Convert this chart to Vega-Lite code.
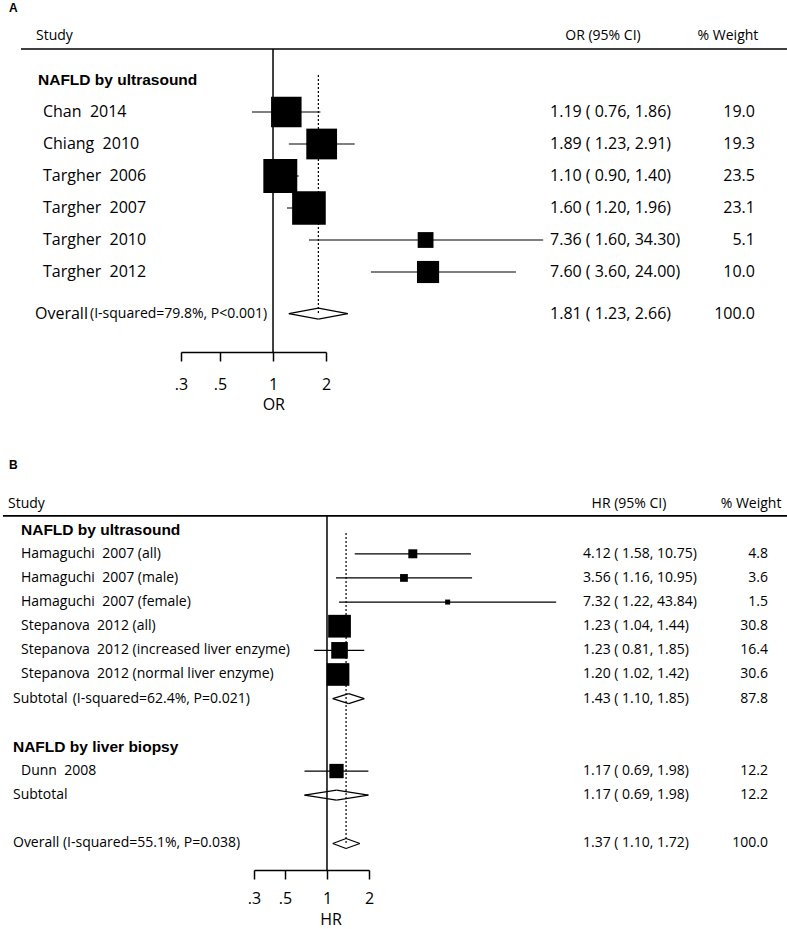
{
  "$schema": "https://vega.github.io/schema/vega-lite/v6.json",
  "padding": {"left": 0, "top": 0, "right": 0, "bottom": 60},
  "background": "white",
  "bounds": "flush",
  "spacing": 98,
  "config": {
    "view": {"stroke": null},
    "font": "Open Sans",
    "text": {"font": "Open Sans", "color": "black"}
  },
  "resolve": {"scale": {"size": "independent", "x": "independent", "y": "independent"}},
  "datasets": {
    "a": [
      {"row": 1, "type": "group", "label": "NAFLD by ultrasound"},
      {"row": 2, "type": "study", "label": "Chan\u00a0 2014", "est": 1.19, "lo": 0.76, "hi": 1.86, "ci": "1.19 ( 0.76, 1.86)", "w": 19.0},
      {"row": 3, "type": "study", "label": "Chiang\u00a0 2010", "est": 1.89, "lo": 1.23, "hi": 2.91, "ci": "1.89 ( 1.23, 2.91)", "w": 19.3},
      {"row": 4, "type": "study", "label": "Targher\u00a0 2006", "est": 1.10, "lo": 0.90, "hi": 1.40, "ci": "1.10 ( 0.90, 1.40)", "w": 23.5},
      {"row": 5, "type": "study", "label": "Targher\u00a0 2007", "est": 1.60, "lo": 1.20, "hi": 1.96, "ci": "1.60 ( 1.20, 1.96)", "w": 23.1},
      {"row": 6, "type": "study", "label": "Targher\u00a0 2010", "est": 7.36, "lo": 1.60, "hi": 34.30, "ci": "7.36 ( 1.60, 34.30)", "w": 5.1},
      {"row": 7, "type": "study", "label": "Targher\u00a0 2012", "est": 7.60, "lo": 3.60, "hi": 24.00, "ci": "7.60 ( 3.60, 24.00)", "w": 10.0},
      {"row": 8.3, "type": "overall", "label": "Overall", "note": "(I-squared=79.8%, P<0.001)", "est": 1.81, "lo": 1.23, "hi": 2.66, "ci": "1.81 ( 1.23, 2.66)", "w": 100.0}
    ],
    "b": [
      {"row": 1, "type": "group", "label": "NAFLD by ultrasound"},
      {"row": 2, "type": "study", "label": "Hamaguchi\u00a0 2007 (all)", "est": 4.12, "lo": 1.58, "hi": 10.75, "ci": "4.12 ( 1.58, 10.75)", "w": 4.8},
      {"row": 3, "type": "study", "label": "Hamaguchi\u00a0 2007 (male)", "est": 3.56, "lo": 1.16, "hi": 10.95, "ci": "3.56 ( 1.16, 10.95)", "w": 3.6},
      {"row": 4, "type": "study", "label": "Hamaguchi\u00a0 2007 (female)", "est": 7.32, "lo": 1.22, "hi": 43.84, "ci": "7.32 ( 1.22, 43.84)", "w": 1.5},
      {"row": 5, "type": "study", "label": "Stepanova\u00a0 2012 (all)", "est": 1.23, "lo": 1.04, "hi": 1.44, "ci": "1.23 ( 1.04, 1.44)", "w": 30.8},
      {"row": 6, "type": "study", "label": "Stepanova\u00a0 2012 (increased liver enzyme)", "est": 1.23, "lo": 0.81, "hi": 1.85, "ci": "1.23 ( 0.81, 1.85)", "w": 16.4},
      {"row": 7, "type": "study", "label": "Stepanova\u00a0 2012 (normal liver enzyme)", "est": 1.20, "lo": 1.02, "hi": 1.42, "ci": "1.20 ( 1.02, 1.42)", "w": 30.6},
      {"row": 8, "type": "subtotal", "label": "Subtotal", "note": "(I-squared=62.4%, P=0.021)", "est": 1.43, "lo": 1.10, "hi": 1.85, "ci": "1.43 ( 1.10, 1.85)", "w": 87.8},
      {"row": 10, "type": "group", "label": "NAFLD by liver biopsy"},
      {"row": 11, "type": "study", "label": "Dunn\u00a0 2008", "est": 1.17, "lo": 0.69, "hi": 1.98, "ci": "1.17 ( 0.69, 1.98)", "w": 12.2},
      {"row": 12, "type": "subtotal", "label": "Subtotal", "note": "", "est": 1.17, "lo": 0.69, "hi": 1.98, "ci": "1.17 ( 0.69, 1.98)", "w": 12.2},
      {"row": 14, "type": "overall", "label": "Overall", "note": "(I-squared=55.1%, P=0.038)", "est": 1.37, "lo": 1.10, "hi": 1.72, "ci": "1.37 ( 1.10, 1.72)", "w": 100.0}
    ]
  },
  "vconcat": [
    {
      "width": 787,
      "height": 352,
      "data": {"name": "a"},
      "encoding": {
        "y": {"field": "row", "type": "quantitative", "scale": {"domain": [-1.5, 9.5], "reverse": true, "nice": false, "zero": false}, "axis": null}
      },
      "resolve": {"scale": {"x": "independent"}},
      "layer": [
        {
          "layer": [
            {
              "transform": [{"filter": "datum.row == 1"}],
              "mark": {"type": "rule", "color": "black", "strokeWidth": 1.5},
              "encoding": {
                "x": {"datum": 1, "type": "quantitative",
                  "scale": {"type": "log", "domain": [0.3, 2], "range": [181, 326], "nice": false},
                  "axis": {"values": [0.3, 0.5, 1, 2], "labelExpr": "datum.value < 1 ? '.' + round(datum.value * 10) : '' + datum.value", "title": null, "grid": false, "domainColor": "black", "domainWidth": 1.5, "tickColor": "black", "tickWidth": 1.5, "tickSize": 9, "labelFont": "Open Sans", "labelFontSize": 16, "labelColor": "black", "labelPadding": 15, "labelFlush": false, "labelOverlap": false}},
                "y": {"datum": 0.031, "type": "quantitative", "axis": null},
                "y2": {"datum": 9.5}
              }
            },
            {
              "transform": [{"filter": "datum.type == 'overall'"}],
              "mark": {"type": "rule", "color": "black", "strokeWidth": 1.2, "strokeDash": [2, 2]},
              "encoding": {
                "x": {"field": "est", "type": "quantitative"},
                "y": {"datum": 0.84, "type": "quantitative", "axis": null},
                "y2": {"field": "row"}
              }
            },
            {
              "transform": [{"filter": "datum.type == 'study'"}],
              "mark": {"type": "rule", "color": "black", "strokeWidth": 1.2},
              "encoding": {
                "x": {"field": "lo", "type": "quantitative"},
                "x2": {"field": "hi"}
              }
            },
            {
              "transform": [{"filter": "datum.type == 'study'"}],
              "mark": {"type": "point", "shape": "square", "filled": true, "color": "black", "opacity": 1, "strokeWidth": 0},
              "encoding": {
                "x": {"field": "est", "type": "quantitative"},
                "size": {"field": "w", "type": "quantitative", "scale": {"type": "linear", "domain": [0, 100], "range": [0, 4900], "zero": true}, "legend": null}
              }
            },
            {
              "transform": [{"filter": "datum.type == 'overall'"}],
              "mark": {"type": "rule", "color": "black", "strokeWidth": 1.2, "y2Offset": -5.5},
              "encoding": {"x": {"field": "lo", "type": "quantitative"}, "x2": {"field": "est"}, "y2": {"field": "row"}}
            },
            {
              "transform": [{"filter": "datum.type == 'overall'"}],
              "mark": {"type": "rule", "color": "black", "strokeWidth": 1.2, "yOffset": -5.5},
              "encoding": {"x": {"field": "est", "type": "quantitative"}, "x2": {"field": "hi"}, "y2": {"field": "row"}}
            },
            {
              "transform": [{"filter": "datum.type == 'overall'"}],
              "mark": {"type": "rule", "color": "black", "strokeWidth": 1.2, "y2Offset": 5.5},
              "encoding": {"x": {"field": "lo", "type": "quantitative"}, "x2": {"field": "est"}, "y2": {"field": "row"}}
            },
            {
              "transform": [{"filter": "datum.type == 'overall'"}],
              "mark": {"type": "rule", "color": "black", "strokeWidth": 1.2, "yOffset": 5.5},
              "encoding": {"x": {"field": "est", "type": "quantitative"}, "x2": {"field": "hi"}, "y2": {"field": "row"}}
            },
            {
              "transform": [{"filter": "datum.row == 1"}],
              "mark": {"type": "text", "text": "OR", "fontSize": 16, "align": "center", "baseline": "middle"},
              "encoding": {
                "x": {"datum": 1.01, "type": "quantitative"},
                "y": {"datum": 11.16, "type": "quantitative", "axis": null}
              }
            }
          ]
        },
        {
          "layer": [
            {
              "transform": [{"filter": "datum.row == 1"}],
              "mark": {"type": "text", "text": "A", "font": "Liberation Sans", "fontWeight": "bold", "fontSize": 12, "align": "left", "baseline": "middle"},
              "encoding": {
                "x": {"datum": 0.0114, "type": "quantitative", "scale": {"domain": [0, 1], "nice": false, "zero": false}, "axis": null},
                "y": {"datum": -1.25, "type": "quantitative", "axis": null}
              }
            },
            {
              "transform": [{"filter": "datum.row == 1"}],
              "mark": {"type": "text", "text": "Study", "fontSize": 14, "align": "left", "baseline": "middle"},
              "encoding": {"x": {"datum": 0.0457, "type": "quantitative", "axis": null}, "y": {"datum": -0.375, "type": "quantitative", "axis": null}}
            },
            {
              "transform": [{"filter": "datum.row == 1"}],
              "mark": {"type": "text", "text": "OR (95% CI)", "fontSize": 14, "align": "center", "baseline": "middle"},
              "encoding": {"x": {"datum": 0.7662, "type": "quantitative", "axis": null}, "y": {"datum": -0.375, "type": "quantitative", "axis": null}}
            },
            {
              "transform": [{"filter": "datum.row == 1"}],
              "mark": {"type": "text", "text": "% Weight", "fontSize": 14, "align": "center", "baseline": "middle"},
              "encoding": {"x": {"datum": 0.925, "type": "quantitative", "axis": null}, "y": {"datum": -0.375, "type": "quantitative", "axis": null}}
            },
            {
              "transform": [{"filter": "datum.row == 1"}],
              "mark": {"type": "rule", "color": "black", "strokeWidth": 1.6},
              "encoding": {"x": {"datum": 0.0267, "type": "quantitative", "axis": null}, "x2": {"datum": 1}, "y": {"datum": 0.031, "type": "quantitative", "axis": null}}
            },
            {
              "transform": [{"filter": "datum.type == 'group'"}],
              "mark": {"type": "text", "font": "Liberation Sans", "fontWeight": "bold", "fontSize": 15.5, "align": "left", "baseline": "middle"},
              "encoding": {"x": {"datum": 0.0483, "type": "quantitative", "axis": null}, "text": {"field": "label"}}
            },
            {
              "transform": [{"filter": "datum.type == 'study'"}],
              "mark": {"type": "text", "fontSize": 16, "align": "left", "baseline": "middle"},
              "encoding": {"x": {"datum": 0.0546, "type": "quantitative", "axis": null}, "text": {"field": "label"}}
            },
            {
              "transform": [{"filter": "datum.type == 'overall'"}],
              "mark": {"type": "text", "fontSize": 16, "align": "left", "baseline": "middle"},
              "encoding": {"x": {"datum": 0.0445, "type": "quantitative", "axis": null}, "text": {"field": "label"}}
            },
            {
              "transform": [{"filter": "datum.type == 'overall'"}],
              "mark": {"type": "text", "fontSize": 14, "align": "left", "baseline": "middle"},
              "encoding": {"x": {"datum": 0.1144, "type": "quantitative", "axis": null}, "text": {"field": "note"}}
            },
            {
              "transform": [{"filter": "datum.type != 'group'"}],
              "mark": {"type": "text", "fontSize": 16, "align": "left", "baseline": "middle"},
              "encoding": {"x": {"datum": 0.6989, "type": "quantitative", "axis": null}, "text": {"field": "ci"}}
            },
            {
              "transform": [{"filter": "datum.type != 'group'"}],
              "mark": {"type": "text", "fontSize": 16, "align": "right", "baseline": "middle"},
              "encoding": {"x": {"datum": 0.9593, "type": "quantitative", "axis": null}, "text": {"field": "w", "type": "quantitative", "format": ".1f"}}
            }
          ]
        }
      ]
    },
    {
      "width": 787,
      "height": 420,
      "data": {"name": "b"},
      "encoding": {
        "y": {"field": "row", "type": "quantitative", "scale": {"domain": [-2.3, 15.1], "reverse": true, "nice": false, "zero": false}, "axis": null}
      },
      "resolve": {"scale": {"x": "independent"}},
      "layer": [
        {
          "layer": [
            {
              "transform": [{"filter": "datum.row == 1"}],
              "mark": {"type": "rule", "color": "black", "strokeWidth": 1.5},
              "encoding": {
                "x": {"datum": 1, "type": "quantitative",
                  "scale": {"type": "log", "domain": [0.3, 2], "range": [254, 369], "nice": false},
                  "axis": {"values": [0.3, 0.5, 1, 2], "labelExpr": "datum.value < 1 ? '.' + round(datum.value * 10) : '' + datum.value", "title": null, "grid": false, "domainColor": "black", "domainWidth": 1.5, "tickColor": "black", "tickWidth": 1.5, "tickSize": 9, "labelFont": "Open Sans", "labelFontSize": 16, "labelColor": "black", "labelPadding": 11, "labelFlush": false, "labelOverlap": false}},
                "y": {"datum": 0.43, "type": "quantitative", "axis": null},
                "y2": {"datum": 15.1}
              }
            },
            {
              "transform": [{"filter": "datum.type == 'overall'"}],
              "mark": {"type": "rule", "color": "black", "strokeWidth": 1.2, "strokeDash": [2, 2]},
              "encoding": {
                "x": {"field": "est", "type": "quantitative"},
                "y": {"datum": 1.14, "type": "quantitative", "axis": null},
                "y2": {"field": "row"}
              }
            },
            {
              "transform": [{"filter": "datum.type == 'study'"}],
              "mark": {"type": "rule", "color": "black", "strokeWidth": 1.2},
              "encoding": {
                "x": {"field": "lo", "type": "quantitative"},
                "x2": {"field": "hi"}
              }
            },
            {
              "transform": [{"filter": "datum.type == 'study'"}],
              "mark": {"type": "point", "shape": "square", "filled": true, "color": "black", "opacity": 1, "strokeWidth": 0},
              "encoding": {
                "x": {"field": "est", "type": "quantitative"},
                "size": {"field": "w", "type": "quantitative", "scale": {"type": "linear", "domain": [0, 100], "range": [0, 1680], "zero": true}, "legend": null}
              }
            },
            {
              "transform": [{"filter": "datum.type != 'study' && datum.type != 'group'"}],
              "mark": {"type": "rule", "color": "black", "strokeWidth": 1.2, "y2Offset": -5},
              "encoding": {"x": {"field": "lo", "type": "quantitative"}, "x2": {"field": "est"}, "y2": {"field": "row"}}
            },
            {
              "transform": [{"filter": "datum.type != 'study' && datum.type != 'group'"}],
              "mark": {"type": "rule", "color": "black", "strokeWidth": 1.2, "yOffset": -5},
              "encoding": {"x": {"field": "est", "type": "quantitative"}, "x2": {"field": "hi"}, "y2": {"field": "row"}}
            },
            {
              "transform": [{"filter": "datum.type != 'study' && datum.type != 'group'"}],
              "mark": {"type": "rule", "color": "black", "strokeWidth": 1.2, "y2Offset": 5},
              "encoding": {"x": {"field": "lo", "type": "quantitative"}, "x2": {"field": "est"}, "y2": {"field": "row"}}
            },
            {
              "transform": [{"filter": "datum.type != 'study' && datum.type != 'group'"}],
              "mark": {"type": "rule", "color": "black", "strokeWidth": 1.2, "yOffset": 5},
              "encoding": {"x": {"field": "est", "type": "quantitative"}, "x2": {"field": "hi"}, "y2": {"field": "row"}}
            },
            {
              "transform": [{"filter": "datum.row == 1"}],
              "mark": {"type": "text", "text": "HR", "fontSize": 16, "align": "center", "baseline": "middle"},
              "encoding": {
                "x": {"datum": 1.07, "type": "quantitative"},
                "y": {"datum": 17.17, "type": "quantitative", "axis": null}
              }
            }
          ]
        },
        {
          "layer": [
            {
              "transform": [{"filter": "datum.row == 1"}],
              "mark": {"type": "text", "text": "B", "font": "Liberation Sans", "fontWeight": "bold", "fontSize": 12, "align": "left", "baseline": "middle"},
              "encoding": {
                "x": {"datum": 0.0114, "type": "quantitative", "scale": {"domain": [0, 1], "nice": false, "zero": false}, "axis": null},
                "y": {"datum": -1.68, "type": "quantitative", "axis": null}
              }
            },
            {
              "transform": [{"filter": "datum.row == 1"}],
              "mark": {"type": "text", "text": "Study", "fontSize": 14, "align": "left", "baseline": "middle"},
              "encoding": {"x": {"datum": 0.0102, "type": "quantitative", "axis": null}, "y": {"datum": -0.05, "type": "quantitative", "axis": null}}
            },
            {
              "transform": [{"filter": "datum.row == 1"}],
              "mark": {"type": "text", "text": "HR (95% CI)", "fontSize": 14, "align": "center", "baseline": "middle"},
              "encoding": {"x": {"datum": 0.7992, "type": "quantitative", "axis": null}, "y": {"datum": -0.05, "type": "quantitative", "axis": null}}
            },
            {
              "transform": [{"filter": "datum.row == 1"}],
              "mark": {"type": "text", "text": "% Weight", "fontSize": 14, "align": "center", "baseline": "middle"},
              "encoding": {"x": {"datum": 0.9543, "type": "quantitative", "axis": null}, "y": {"datum": -0.05, "type": "quantitative", "axis": null}}
            },
            {
              "transform": [{"filter": "datum.row == 1"}],
              "mark": {"type": "rule", "color": "black", "strokeWidth": 1.6},
              "encoding": {"x": {"datum": 0.0038, "type": "quantitative", "axis": null}, "x2": {"datum": 1}, "y": {"datum": 0.43, "type": "quantitative", "axis": null}}
            },
            {
              "transform": [{"filter": "datum.type == 'group' && datum.row == 1"}],
              "mark": {"type": "text", "font": "Liberation Sans", "fontWeight": "bold", "fontSize": 15.5, "align": "left", "baseline": "middle"},
              "encoding": {"x": {"datum": 0.0267, "type": "quantitative", "axis": null}, "text": {"field": "label"}}
            },
            {
              "transform": [{"filter": "datum.type == 'group' && datum.row == 10"}],
              "mark": {"type": "text", "font": "Liberation Sans", "fontWeight": "bold", "fontSize": 15.5, "align": "left", "baseline": "middle"},
              "encoding": {"x": {"datum": 0.0165, "type": "quantitative", "axis": null}, "text": {"field": "label"}}
            },
            {
              "transform": [{"filter": "datum.type == 'study'"}],
              "mark": {"type": "text", "fontSize": 14, "align": "left", "baseline": "middle"},
              "encoding": {"x": {"datum": 0.0267, "type": "quantitative", "axis": null}, "text": {"field": "label"}}
            },
            {
              "transform": [{"filter": "datum.type == 'subtotal' || datum.type == 'overall'"}],
              "mark": {"type": "text", "fontSize": 14, "align": "left", "baseline": "middle"},
              "encoding": {"x": {"datum": 0.0165, "type": "quantitative", "axis": null}, "text": {"field": "label"}}
            },
            {
              "transform": [{"filter": "datum.type == 'subtotal'"}],
              "mark": {"type": "text", "fontSize": 14, "align": "left", "baseline": "middle"},
              "encoding": {"x": {"datum": 0.0924, "type": "quantitative", "axis": null}, "text": {"field": "note"}}
            },
            {
              "transform": [{"filter": "datum.type == 'overall'"}],
              "mark": {"type": "text", "fontSize": 14, "align": "left", "baseline": "middle"},
              "encoding": {"x": {"datum": 0.08, "type": "quantitative", "axis": null}, "text": {"field": "note"}}
            },
            {
              "transform": [{"filter": "datum.type != 'group'"}],
              "mark": {"type": "text", "fontSize": 14, "align": "left", "baseline": "middle"},
              "encoding": {"x": {"datum": 0.7408, "type": "quantitative", "axis": null}, "text": {"field": "ci"}}
            },
            {
              "transform": [{"filter": "datum.type != 'group'"}],
              "mark": {"type": "text", "fontSize": 14, "align": "right", "baseline": "middle"},
              "encoding": {"x": {"datum": 0.9759, "type": "quantitative", "axis": null}, "text": {"field": "w", "type": "quantitative", "format": ".1f"}}
            }
          ]
        }
      ]
    }
  ]
}
